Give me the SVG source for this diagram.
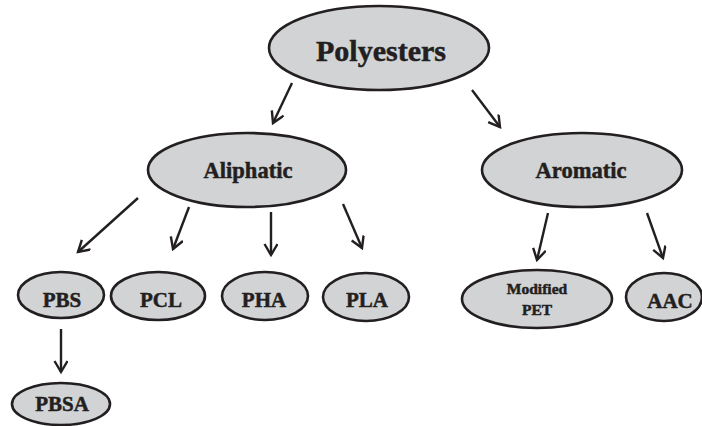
<svg xmlns="http://www.w3.org/2000/svg" width="702" height="426" viewBox="0 0 702 426">
<defs>
<style>
.node ellipse{fill:#d2d3d5;stroke:#231f20;stroke-width:2.6}
.node text{font-family:"Liberation Serif","Times New Roman",serif;font-weight:bold;fill:#231f20;stroke:#231f20;stroke-width:0.5;text-anchor:middle}
.conn line{stroke:#231f20;stroke-width:2.4;fill:none}
</style>
<marker id="arr" markerUnits="userSpaceOnUse" markerWidth="16" markerHeight="16" refX="13" refY="7" orient="auto">
<path d="M2,0.5 L13,7 L2,13.5" fill="none" stroke="#231f20" stroke-width="2.4" stroke-linejoin="miter"/>
</marker>
</defs>
<rect width="702" height="426" fill="#ffffff"/>
<g class="conn">
<line x1="292" y1="83" x2="273" y2="123" marker-end="url(#arr)"/>
<line x1="472" y1="90" x2="500" y2="127" marker-end="url(#arr)"/>
<line x1="138" y1="198" x2="78" y2="252" marker-end="url(#arr)"/>
<line x1="189" y1="207" x2="173" y2="249" marker-end="url(#arr)"/>
<line x1="271" y1="212" x2="271" y2="255" marker-end="url(#arr)"/>
<line x1="343" y1="204" x2="362" y2="248" marker-end="url(#arr)"/>
<line x1="548" y1="213" x2="537" y2="260" marker-end="url(#arr)"/>
<line x1="647" y1="213" x2="663" y2="258" marker-end="url(#arr)"/>
<line x1="61" y1="329" x2="61" y2="372" marker-end="url(#arr)"/>
</g>
<g id="polyesters" class="node">
<ellipse cx="379" cy="48" rx="110" ry="42"/>
<text x="381" y="61" font-size="30">Polyesters</text>
</g>
<g id="aliphatic" class="node">
<ellipse cx="247" cy="170" rx="99" ry="37"/>
<text x="248" y="178" font-size="22.5">Aliphatic</text>
</g>
<g id="aromatic" class="node">
<ellipse cx="582" cy="170" rx="100" ry="37"/>
<text x="581" y="178" font-size="22.5">Aromatic</text>
</g>
<g id="pbs" class="node">
<ellipse cx="61" cy="295" rx="43" ry="23"/>
<text x="62" y="307" font-size="21">PBS</text>
</g>
<g id="pcl" class="node">
<ellipse cx="158" cy="296" rx="47" ry="24"/>
<text x="161" y="307" font-size="21">PCL</text>
</g>
<g id="pha" class="node">
<ellipse cx="265" cy="296" rx="43" ry="24"/>
<text x="264" y="307" font-size="21">PHA</text>
</g>
<g id="pla" class="node">
<ellipse cx="366" cy="297" rx="43" ry="24"/>
<text x="367" y="307" font-size="21">PLA</text>
</g>
<g id="modified-pet" class="node">
<ellipse cx="537" cy="299" rx="75" ry="29"/>
<text x="537" y="294" font-size="15.5">Modified</text>
<text x="537" y="315" font-size="15.5">PET</text>
</g>
<g id="aac" class="node">
<ellipse cx="664" cy="297" rx="38" ry="24"/>
<text x="670" y="308" font-size="21">AAC</text>
</g>
<g id="pbsa" class="node">
<ellipse cx="61" cy="404" rx="49" ry="21"/>
<text x="62" y="411" font-size="21">PBSA</text>
</g>
</svg>
